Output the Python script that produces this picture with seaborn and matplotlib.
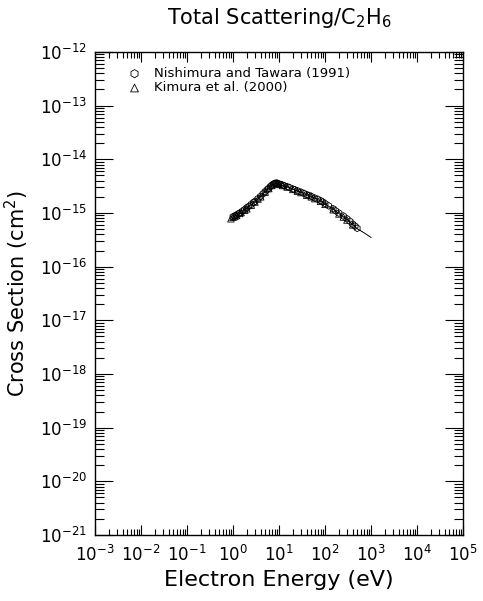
import numpy as np
import pandas as pd
import seaborn as sns
import matplotlib.pyplot as plt
from matplotlib.ticker import FixedLocator, NullFormatter

# Nishimura and Tawara (1991), energy in eV, cross section in 1e-16 cm2
nt_energy = [1.0, 1.1, 1.2, 1.3, 1.4, 1.6, 1.8, 2.0, 2.2, 2.5, 2.8, 3.0, 3.5, 4.0, 4.5, 5.0, 5.5,
             6.0, 6.5, 7.0, 7.5, 8.0, 8.5, 9.0, 9.5, 10, 11, 12, 13, 15, 17, 20, 22, 25, 30, 35,
             40, 45, 50, 60, 70, 80, 90, 100, 120, 150, 170, 200, 250, 300, 350, 400, 450, 500]
nt_sigma = [8.5, 8.9, 9.2, 9.6, 10.0, 10.8, 11.6, 12.5, 13.3, 14.5, 15.7, 16.5, 18.5, 20.5, 22.8,
            25.0, 27.0, 29.0, 31.0, 33.0, 34.5, 35.5, 36.0, 36.0, 35.5, 34.5, 34.0, 33.0, 32.3,
            31.0, 29.8, 28.0, 27.2, 26.0, 24.5, 23.2, 22.0, 21.2, 20.5, 19.0, 18.0, 17.0, 16.0,
            15.0, 13.6, 12.0, 11.0, 10.0, 8.8, 7.8, 7.0, 6.2, 5.7, 5.2]

# Kimura et al. (2000)
ki_energy = [0.9, 1.0, 1.1, 1.2, 1.4, 1.5, 1.8, 2.0, 2.5, 3.0, 3.5, 4.0, 5.0, 6.0, 7.0, 8.0,
             9.0, 10, 12, 15, 20, 25, 30, 40, 50, 60, 80, 100, 150, 200, 250, 300, 400]
ki_sigma = [7.8, 8.3, 8.6, 9.0, 9.8, 10.2, 11.3, 12.0, 14.0, 16.0, 18.2, 20.0, 24.5, 28.5, 32.5,
            35.0, 35.5, 34.0, 32.5, 30.5, 27.5, 25.5, 24.0, 21.5, 20.0, 18.5, 16.5, 14.5, 11.5,
            9.6, 8.4, 7.4, 6.0]

# recommended curve
rec_energy = [1.0, 1.5, 2.0, 3.0, 4.0, 5.0, 6.0, 7.0, 8.0, 9.0, 10, 15, 20, 30, 50,
              70, 100, 150, 200, 300, 500, 700, 1000]
rec_sigma = [8.4, 10.2, 12.3, 16.3, 20.3, 24.8, 28.8, 32.8, 35.2, 35.7, 34.3, 30.8, 27.8, 24.2, 20.2,
             17.8, 14.8, 11.8, 9.8, 7.6, 5.1, 4.3, 3.5]

x_decades = list(range(-3, 6))
y_decades = list(range(-21, -11))

nt = pd.DataFrame({"E": nt_energy, "s": np.array(nt_sigma) * 1e-16})
ki = pd.DataFrame({"E": ki_energy, "s": np.array(ki_sigma) * 1e-16})
rec = pd.DataFrame({"E": rec_energy, "s": np.array(rec_sigma) * 1e-16})

sns.set_style("ticks")
plt.rcParams['font.family'] = ['DejaVu Sans']
plt.rcParams['text.color'] = 'black'
plt.rcParams['axes.labelcolor'] = 'black'
plt.rcParams['xtick.color'] = 'black'
plt.rcParams['ytick.color'] = 'black'
plt.rcParams['axes.edgecolor'] = 'black'

fig = plt.figure(figsize=(4.83, 6.01), dpi=100)
ax = fig.add_axes([0.1967, 0.1098, 0.7619, 0.8037])

sns.lineplot(x="E", y="s", data=rec, ax=ax, color="black", linewidth=0.7)
sns.scatterplot(x="E", y="s", data=nt, ax=ax, marker="h", s=24,
                facecolor="none", edgecolor="black", linewidth=0.6,
                label="Nishimura and Tawara (1991)")
sns.scatterplot(x="E", y="s", data=ki, ax=ax, marker="^", s=22,
                facecolor="none", edgecolor="black", linewidth=0.6,
                label="Kimura et al. (2000)")

ax.set_xscale("log")
ax.set_yscale("log")
ax.set_xlim(1e-3, 1e5)
ax.set_ylim(1e-21, 1e-12)

ax.xaxis.set_major_locator(FixedLocator([10.0 ** d for d in x_decades]))
ax.yaxis.set_major_locator(FixedLocator([10.0 ** d for d in y_decades]))
ax.xaxis.set_minor_locator(FixedLocator([m * 10.0 ** d for d in x_decades[:-1] for m in range(2, 10)]))
ax.yaxis.set_minor_locator(FixedLocator([m * 10.0 ** d for d in y_decades[:-1] for m in range(2, 10)]))
ax.xaxis.set_minor_formatter(NullFormatter())
ax.yaxis.set_minor_formatter(NullFormatter())

ax.tick_params(axis="x", which="major", direction="in", length=7, width=0.8,
               top=True, labelsize=12, pad=7)
ax.tick_params(axis="x", which="minor", direction="in", length=4, width=0.8, top=True)
ax.tick_params(axis="y", which="major", direction="in", length=13, width=0.8,
               right=True, labelsize=12, pad=6)
ax.tick_params(axis="y", which="minor", direction="in", length=6.5, width=0.8, right=True)
for sp in ax.spines.values():
    sp.set_linewidth(1.0)

ax.set_xlabel("Electron Energy (eV)", fontsize=16, labelpad=4)
ax.set_ylabel("Cross Section (cm$^2$)", fontsize=15, labelpad=6)
ax.set_title("Total Scattering/C$_2$H$_6$", fontsize=15, pad=20)

ax.legend(loc="upper left", bbox_to_anchor=(0.05, 0.985), frameon=False,
          fontsize=9.5, handletextpad=0.5, borderaxespad=0.2, labelspacing=0.1,
          markerscale=1.2)

fig.savefig("out.png", dpi=100)
